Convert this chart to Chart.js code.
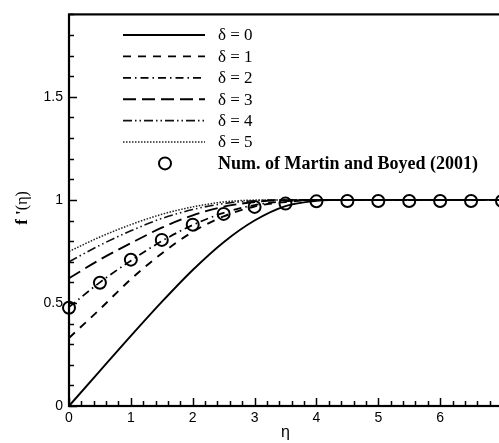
<!DOCTYPE html>
<html>
<head>
<meta charset="utf-8">
<script src="https://cdn.jsdelivr.net/npm/chart.js@4.4.1/dist/chart.umd.min.js"></script>
<style>
  html, body { margin:0; padding:0; background:#fff; overflow:hidden; }
  #wrap { width:510px; height:443px; }
</style>
</head>
<body>
<div id="wrap"><canvas id="chart" width="510" height="443"></canvas></div>
<script>
// velocity profiles f'(eta) for several slip parameters
const eta     = [0, 0.5, 1, 1.5, 2, 2.5, 3, 3.5, 4, 4.5, 5, 5.5, 6, 6.5, 7];
const delta0  = [0, 0.17, 0.34, 0.505, 0.66, 0.795, 0.90, 0.97, 0.995, 1, 1, 1, 1, 1, 1];
const delta1  = [0.33, 0.47, 0.615, 0.74, 0.845, 0.92, 0.968, 0.99, 0.999, 1, 1, 1, 1, 1, 1];
const delta2  = [0.48, 0.60, 0.705, 0.80, 0.878, 0.937, 0.975, 0.993, 1, 1, 1, 1, 1, 1, 1];
const delta3  = [0.62, 0.71, 0.79, 0.865, 0.925, 0.967, 0.99, 0.999, 1, 1, 1, 1, 1, 1, 1];
const delta4  = [0.70, 0.78, 0.85, 0.91, 0.953, 0.982, 0.996, 1, 1, 1, 1, 1, 1, 1, 1];
const delta5  = [0.75, 0.82, 0.88, 0.93, 0.966, 0.99, 0.999, 1, 1, 1, 1, 1, 1, 1, 1];
// numerical points (Martin & Boyd)
const numEta  = [0, 0.5, 1, 1.5, 2, 2.5, 3, 3.5, 4, 4.5, 5, 5.5, 6, 6.5, 7];
const numFp   = [0.477, 0.598, 0.71, 0.806, 0.88, 0.932, 0.966, 0.982, 0.993, 0.995, 0.995, 0.995, 0.995, 0.995, 0.995];

const curveLabels = ['δ = 0', 'δ = 1', 'δ = 2', 'δ = 3', 'δ = 4', 'δ = 5'];
const numLabel = 'Num. of Martin and Boyed (2001)';
const xTickValues = [0, 1, 2, 3, 4, 5, 6];
const yTickValues = [0, 0.5, 1, 1.5];

const pts = (xs, ys) => xs.map((x, i) => ({ x, y: ys[i] }));

const lineStyle = [
  { dash: [],                     width: 1.9, color: '#000' },
  { dash: [8, 7],                 width: 1.9, color: '#000' },
  { dash: [8, 4, 1.5, 4],         width: 1.7, color: '#000' },
  { dash: [13, 6],                width: 1.9, color: '#000' },
  { dash: [9, 3, 1.5, 3, 1.5, 3], width: 1.6, color: '#111' },
  { dash: [1.5, 1.5],             width: 1.5, color: '#222' }
];

const curves = [delta0, delta1, delta2, delta3, delta4, delta5];
const datasets = curves.map((ys, i) => ({
  label: curveLabels[i],
  data: pts(eta, ys),
  borderColor: lineStyle[i].color,
  borderWidth: lineStyle[i].width,
  borderDash: lineStyle[i].dash,
  pointRadius: 0,
  fill: false,
  cubicInterpolationMode: 'monotone',
  clip: false
}));
datasets.push({
  label: numLabel,
  data: pts(numEta, numFp),
  showLine: false,
  pointStyle: 'circle',
  pointRadius: 6,
  pointBorderWidth: 2,
  pointBorderColor: '#000',
  pointBackgroundColor: 'rgba(0,0,0,0)',
  borderColor: '#000',
  clip: false
});

const serif = '"Liberation Serif", "Times New Roman", serif';

// frame, inward ticks, axis titles and legend
const decor = {
  id: 'decor',
  afterDraw(chart) {
    const ctx = chart.ctx;
    const a = chart.chartArea;
    const xs = chart.scales.x, ys = chart.scales.y;
    ctx.save();
    ctx.strokeStyle = '#000';
    ctx.setLineDash([]);

    // ticks
    ctx.lineWidth = 1.5;
    for (let k = 0; k <= 35; k++) {
      const px = Math.round(xs.getPixelForValue(k * 0.2)) + 0.5;
      const len = (k % 5 === 0) ? 8 : 5;
      ctx.beginPath(); ctx.moveTo(px, a.bottom); ctx.lineTo(px, a.bottom - len); ctx.stroke();
    }
    for (let k = 0; k <= 19; k++) {
      const py = Math.round(ys.getPixelForValue(k * 0.1)) + 0.5;
      const len = (k % 5 === 0) ? 8 : 5;
      ctx.beginPath(); ctx.moveTo(a.left, py); ctx.lineTo(a.left + len, py); ctx.stroke();
    }

    // frame
    ctx.lineWidth = 2.2;
    ctx.strokeRect(a.left, a.top, a.right - a.left, a.bottom - a.top);

    // axis titles
    ctx.fillStyle = '#000';
    ctx.font = '16px "Liberation Sans", Arial, sans-serif';
    ctx.textAlign = 'center';
    ctx.textBaseline = 'middle';
    ctx.fillText('η', xs.getPixelForValue(3.5), 433);

    ctx.save();
    ctx.translate(23, 208);
    ctx.rotate(-Math.PI / 2);
    ctx.textAlign = 'left';
    const boldPart = "f '";
    const plainPart = '(η)';
    ctx.font = 'bold 17px ' + serif;
    const w1 = ctx.measureText(boldPart).width;
    ctx.font = '16px ' + serif;
    const w2 = ctx.measureText(plainPart).width;
    const x0 = -(w1 + w2) / 2;
    ctx.font = 'bold 17px ' + serif;
    ctx.fillText(boldPart, x0, 0);
    ctx.font = '16px ' + serif;
    ctx.fillText(plainPart, x0 + w1, 0);
    ctx.restore();

    // legend
    const lx0 = 123, lx1 = 205, tx = 218, ly0 = 35, dy = 21.4;
    chart.data.datasets.forEach((ds, i) => {
      const y = ly0 + i * dy;
      if (ds.showLine === false) {
        ctx.setLineDash([]);
        ctx.lineWidth = 2;
        ctx.beginPath(); ctx.arc(165, y, 6, 0, Math.PI * 2); ctx.stroke();
        ctx.font = 'bold 18px ' + serif;
      } else {
        ctx.setLineDash(ds.borderDash);
        ctx.lineWidth = ds.borderWidth;
        ctx.strokeStyle = ds.borderColor;
        ctx.beginPath(); ctx.moveTo(lx0, y); ctx.lineTo(lx1, y); ctx.stroke();
        ctx.strokeStyle = '#000';
        ctx.font = '17px ' + serif;
      }
      ctx.setLineDash([]);
      ctx.textAlign = 'left';
      ctx.fillText(ds.label, tx, y + 1);
    });
    ctx.restore();
  }
};

new Chart(document.getElementById('chart'), {
  type: 'line',
  data: { datasets },
  plugins: [decor],
  options: {
    responsive: false,
    animation: false,
    layout: { padding: { top: 10, right: 7, left: 0, bottom: 0 } },
    plugins: { legend: { display: false }, tooltip: { enabled: false } },
    scales: {
      x: {
        type: 'linear', min: 0, max: 7,
        grid: { display: false, drawTicks: false },
        border: { display: false },
        afterFit: s => { s.height = 37; },
        afterBuildTicks: s => { s.ticks = xTickValues.map(v => ({ value: v })); },
        ticks: { padding: 4, color: '#000', maxRotation: 0, callback: v => String(v),
                 font: { family: '"Liberation Sans", Arial, sans-serif', size: 14 } }
      },
      y: {
        type: 'linear', min: 0, max: 1.9,
        grid: { display: false, drawTicks: false },
        border: { display: false },
        afterFit: s => { s.width = 69; },
        afterBuildTicks: s => { s.ticks = yTickValues.map(v => ({ value: v })); },
        ticks: { padding: 6, color: '#000', callback: v => String(v),
                 font: { family: '"Liberation Sans", Arial, sans-serif', size: 14 } }
      }
    }
  }
});
</script>
</body>
</html>
